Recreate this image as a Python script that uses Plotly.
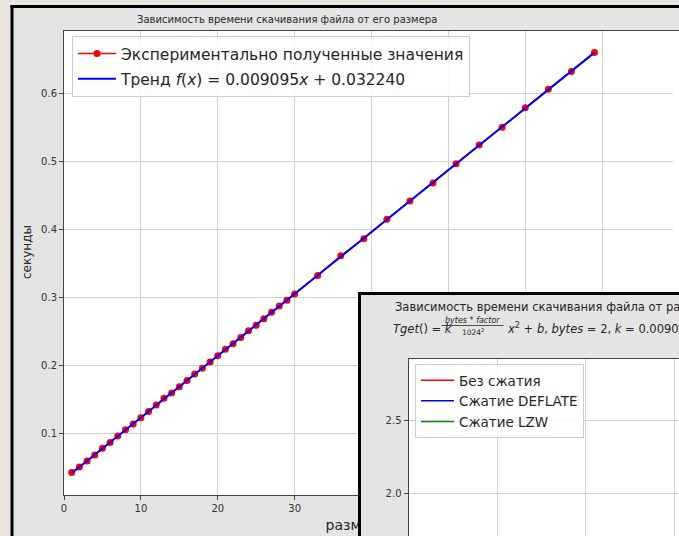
import plotly.graph_objects as go

W, H = 679, 536

# measured points: file size vs download time
exp_size = list(range(1, 31)) + [33, 36, 39, 42, 45, 48, 51, 54, 57, 60, 63, 66, 69]
exp_time = [0.0425, 0.0505, 0.0592, 0.0683, 0.0779, 0.0866, 0.0961, 0.1052, 0.1137, 0.1228,
            0.1321, 0.1418, 0.1516, 0.1592, 0.1684, 0.1775, 0.1872, 0.1958, 0.2047, 0.2139,
            0.2236, 0.2318, 0.2409, 0.2507, 0.2590, 0.2684, 0.2781, 0.2873, 0.2956, 0.3047,
            0.3322, 0.3611, 0.3862, 0.4148, 0.4418, 0.4682, 0.4965, 0.5238, 0.5502, 0.5786,
            0.6058, 0.6320, 0.6601]

# linear trend f(x) = 0.009095x + 0.032240, end points
trend_size = [1, 69]
trend_time = [0.041335, 0.659795]

x_ticks = [0, 10, 20, 30, 40, 50, 60, 70]
y_ticks = [0.1, 0.2, 0.3, 0.4, 0.5, 0.6]

# second (overlapping) window: its curves lie outside the visible part
inset_names = ["Без сжатия", "Сжатие DEFLATE", "Сжатие LZW"]
inset_colors = ["red", "blue", "green"]
inset_x_ticks = [0, 1, 2, 3]
inset_y_ticks = [1.5, 2.0, 2.5]

GREY = "#e4e4e4"
BEIGE = "#ebe6de"
TXT = "#262626"
FONT = "DejaVu Sans"


def px(x):
    return x / W


def py(y):
    return 1 - y / H


fig = go.Figure()

fig.add_trace(go.Scatter(x=exp_size, y=exp_time, mode="lines+markers",
                         line=dict(color="red", width=1.5),
                         marker=dict(color="red", size=7),
                         name="Экспериментально полученные значения",
                         legendgroup="a"))
fig.add_trace(go.Scatter(x=trend_size, y=trend_time, mode="lines",
                         line=dict(color="blue", width=2),
                         name="Тренд <i>f</i>(<i>x</i>) = 0.009095<i>x</i> + 0.032240",
                         legendgroup="b"))

# window background subplot
fig.add_trace(go.Scatter(x=[None], y=[None], xaxis="x2", yaxis="y2",
                         showlegend=False, hoverinfo="skip"))

for i in range(len(inset_names)):
    fig.add_trace(go.Scatter(x=[None], y=[None], xaxis="x3", yaxis="y3", mode="lines",
                             line=dict(color=inset_colors[i], width=1.5),
                             name=inset_names[i], legend="legend2",
                             legendgroup="g%d" % i))

ax_common = dict(showgrid=True, gridcolor="#d0d0d0", gridwidth=1, zeroline=False,
                 ticks="outside", ticklen=4, tickcolor="#444", showline=True,
                 linecolor="#444", linewidth=1, automargin=False,
                 tickfont=dict(size=10, color="#333", family=FONT))

fig.update_layout(
    width=W, height=H,
    margin=dict(l=0, r=0, t=0, b=0),
    paper_bgcolor=GREY, plot_bgcolor="white",
    font=dict(family=FONT, color=TXT),
    xaxis=dict(domain=[px(64), 1], range=[0, 80], tickvals=x_ticks, mirror=True,
               **ax_common),
    yaxis=dict(domain=[py(495), py(31)], range=[0.0093, 0.6916], tickvals=y_ticks,
               tickformat=".1f", **ax_common),
    xaxis2=dict(domain=[px(358), 1], range=[0, 1], anchor="y2", showgrid=False,
                zeroline=False, showticklabels=False, ticks="", showline=False),
    yaxis2=dict(domain=[0, py(292)], range=[0, 1], anchor="x2", showgrid=False,
                zeroline=False, showticklabels=False, ticks="", showline=False),
    xaxis3=dict(domain=[px(408.5), 1], range=[0, 3.055], anchor="y3",
                tickvals=inset_x_ticks, mirror=True, **ax_common),
    yaxis3=dict(domain=[0, py(359)], range=[1.7055, 2.918], anchor="x3",
                tickvals=inset_y_ticks, tickformat=".1f", **ax_common),
    legend=dict(x=px(72), y=py(36), xanchor="left", yanchor="top",
                bgcolor="rgba(255,255,255,0.85)", bordercolor="#cccccc", borderwidth=1,
                font=dict(size=15.5, color=TXT, family=FONT),
                traceorder="grouped", tracegroupgap=2, itemwidth=38),
    legend2=dict(x=px(415), y=py(364), xanchor="left", yanchor="top",
                 bgcolor="rgba(255,255,255,0.85)", bordercolor="#cccccc", borderwidth=1,
                 font=dict(size=13.5, color=TXT, family=FONT),
                 traceorder="grouped", tracegroupgap=0, itemwidth=33),
)
fig.update_xaxes(showticklabels=False, selector=dict(anchor="y3"))

shapes = [
    # desktop around the windows
    dict(type="rect", xref="paper", yref="paper", x0=0, x1=px(10.5), y0=0, y1=1,
         fillcolor=BEIGE, line=dict(width=0), layer="below"),
    dict(type="rect", xref="paper", yref="paper", x0=0, x1=1, y0=py(5), y1=1,
         fillcolor=BEIGE, line=dict(width=0), layer="below"),
    dict(type="line", xref="paper", yref="paper", x0=px(12), x1=px(12), y0=py(5), y1=0,
         line=dict(color="black", width=3), layer="below"),
    dict(type="line", xref="paper", yref="paper", x0=px(10.5), x1=1, y0=py(6.5), y1=py(6.5),
         line=dict(color="black", width=3), layer="below"),
    # x axis label of the main window, kept under the second window
    dict(type="rect", xref="paper", yref="paper", x0=px(322.5), x1=px(640),
         y0=py(532), y1=py(516), line=dict(width=0), fillcolor="rgba(0,0,0,0)",
         layer="below",
         label=dict(text="размер файла, МБ", textposition="middle left", padding=0,
                    font=dict(size=14, color=TXT, family=FONT))),
    # second window
    dict(type="rect", xref="x2", yref="y2", x0=0.0047, x1=1.5, y0=-0.5, y1=0.9939,
         fillcolor=GREY, line=dict(color="black", width=3), layer="below"),
    # fraction bar in the formula
    dict(type="line", xref="paper", yref="paper", x0=px(441.5), x1=px(503.5),
         y0=py(325.5), y1=py(325.5), line=dict(color=TXT, width=0.8), layer="above"),
    # main window continues past the right edge: no frame there
    dict(type="rect", xref="paper", yref="paper", x0=px(673), x1=1, y0=py(30), y1=py(8),
         fillcolor=GREY, line=dict(width=0), layer="above"),
    dict(type="rect", xref="paper", yref="paper", x0=px(673), x1=1, y0=py(291), y1=py(31),
         fillcolor="white", line=dict(width=0), layer="above"),
]
fig.update_layout(shapes=shapes)

ann = [
    dict(text="Зависимость времени скачивания файла от его размера", x=px(287), y=py(19.5),
         xanchor="center", yanchor="middle", font=dict(size=10, color=TXT)),
    dict(text="секунды", x=px(27), y=py(252), textangle=-90,
         xanchor="center", yanchor="middle", font=dict(size=12, color=TXT)),
    dict(text="Зависимость времени скачивания файла от размера", x=px(393), y=py(306.5),
         xanchor="left", yanchor="middle", font=dict(size=11.5, color=TXT)),
    dict(text="<i>Tget</i>() = <i>k</i>", x=px(391.5), y=py(328.5),
         xanchor="left", yanchor="middle", font=dict(size=11.5, color=TXT)),
    dict(text="<i>bytes</i> * <i>factor</i>", x=px(472.5), y=py(320.5),
         xanchor="center", yanchor="middle", font=dict(size=8, color=TXT)),
    dict(text="1024<sup>2</sup>", x=px(472.5), y=py(331.5),
         xanchor="center", yanchor="middle", font=dict(size=7.5, color=TXT)),
    dict(text="<i>x</i><sup>2</sup> + <i>b</i>, <i>bytes</i> = 2, <i>k</i> = 0.009095, <i>b</i> = 0.032240",
         x=px(504.5), y=py(328.5), xanchor="left", yanchor="middle",
         font=dict(size=11.5, color=TXT)),
]
for a in ann:
    a.update(xref="paper", yref="paper", showarrow=False)
fig.update_layout(annotations=ann)

fig.write_html("out.html", config={"displayModeBar": False},
               post_script="document.body.style.margin='0px';"
               "document.body.style.overflow='hidden';")
